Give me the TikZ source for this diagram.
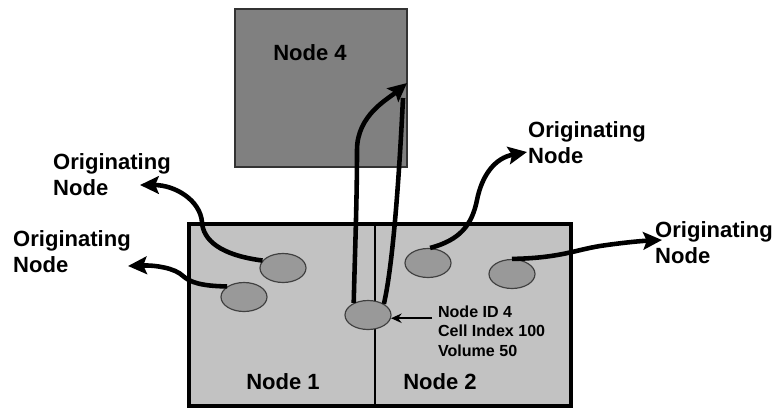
\documentclass[tikz,border=0pt]{standalone}
\usepackage{fontspec}
\setmainfont{Liberation Sans}
\usetikzlibrary{positioning, arrows.meta, shapes.geometric, fit, backgrounds}

\begin{document}
\begin{tikzpicture}[
		x=0.03cm, y=-0.03cm,
		% Estilos de bloques
		remota/.style={draw=black!80, line width=1.2pt, fill=black!50, rectangle, minimum width=5.16cm, minimum height=4.74cm, inner sep=0pt},
		panel/.style={draw=black, line width=2pt, fill=black!24, rectangle, minimum height=5.4cm, inner sep=0pt},
		marco/.style={draw=black, line width=3.6pt, inner sep=0pt},
		celda/.style={draw=black!75, line width=1pt, fill=black!40, ellipse, minimum width=1.38cm, minimum height=0.87cm, inner sep=0pt},
		% Estilos de texto
		titulo/.style={font=\fontsize{18.8}{22.2}\selectfont\bfseries, inner sep=0pt},
		etiqueta/.style={font=\fontsize{18.8}{22.2}\selectfont\bfseries, align=left, inner sep=0pt, anchor=west},
		texto_celda/.style={font=\fontsize{13.7}{16.6}\selectfont\bfseries, align=left, inner ysep=0pt, inner xsep=5pt, anchor=west},
		% Estilo de flechas
		flecha/.style={-{Stealth[length=16pt, width=15pt, inset=3pt]}, line width=3.9pt},
		linea/.style={line width=3.9pt},
		puntero/.style={-{Stealth[length=9pt, width=8pt]}, line width=1.8pt}
		]
		\useasboundingbox (0,0) rectangle (781,409);
		
		% --- NODO REMOTO (ARRIBA) ---
		\node[remota] (nodo4) at (321,88) {};
		\node[titulo] (titulo4) at (310,53) {Node 4};
		
		% --- DOMINIO LOCAL (ABAJO) ---
		\node[panel, minimum width=5.55cm] (nodo1) at (282.5,315) {};
		\node[panel, minimum width=5.85cm] (nodo2) at (472.5,315) {};
		\node[marco, fit=(nodo1)(nodo2)] (dominio) {};
		\node[titulo] (titulo1) at (283,382) {Node 1};
		\node[titulo] (titulo2) at (440,382) {Node 2};
		
		% Celdas
		\node[celda] (celdaA) at (283,268) {};
		\node[celda] (celdaB) at (244,297) {};
		\node[celda] (celdaC) at (368,315) {};
		\node[celda] (celdaD) at (428,263) {};
		\node[celda] (celdaE) at (512,274) {};
		\node[texto_celda] (info) at (432,331) {Node ID 4\\Cell Index 100\\Volume 50};
		
		% --- NODOS DE ORIGEN ---
		\node[etiqueta] (origen1) at (53,175) {Originating\\Node};
		\node[etiqueta] (origen2) at (13,252) {Originating\\Node};
		\node[etiqueta] (origen3) at (528,143) {Originating\\Node};
		\node[etiqueta] (origen4) at (655,243) {Originating\\Node};
		
		% Puntas de flecha
		\coordinate (punta1) at (140,185);
		\coordinate (punta2) at (128,266);
		\coordinate (punta3) at (527,152);
		\coordinate (punta4) at (662,240);
		\coordinate (punta5) at (407,83);
		\coordinate (retorno) at (403,98);
		
		% --- CONEXIONES ---
		\draw[flecha] (celdaA.160) .. controls (220,255) and (203,240) .. (202,222) .. controls (200,200) and (175,185) .. (punta1);
		\draw[flecha] (celdaB.148) .. controls (200,286) and (190,282) .. (183,276) .. controls (175,268) and (155,265) .. (punta2);
		\draw[flecha] (celdaD.82) .. controls (460,240) and (472,225) .. (477,200) .. controls (482,175) and (495,158) .. (punta3);
		\draw[flecha] (celdaE.north) .. controls (560,258) and (575,250) .. (600,246) .. controls (620,243) and (640,241) .. (punta4);
		
		% Lazo hacia el nodo 4
		\draw[flecha] (celdaC.140) .. controls (355,250) and (357,200) .. (357,150) .. controls (357,115) and (388,99) .. (punta5);
		\draw[linea] (celdaC.35) .. controls (394,260) and (400,160) .. (retorno);
		
		% Informacion de la celda
		\draw[puntero] (info.west |- celdaC.-8) -- (celdaC.-8);
		
	\end{tikzpicture}
\end{document}
